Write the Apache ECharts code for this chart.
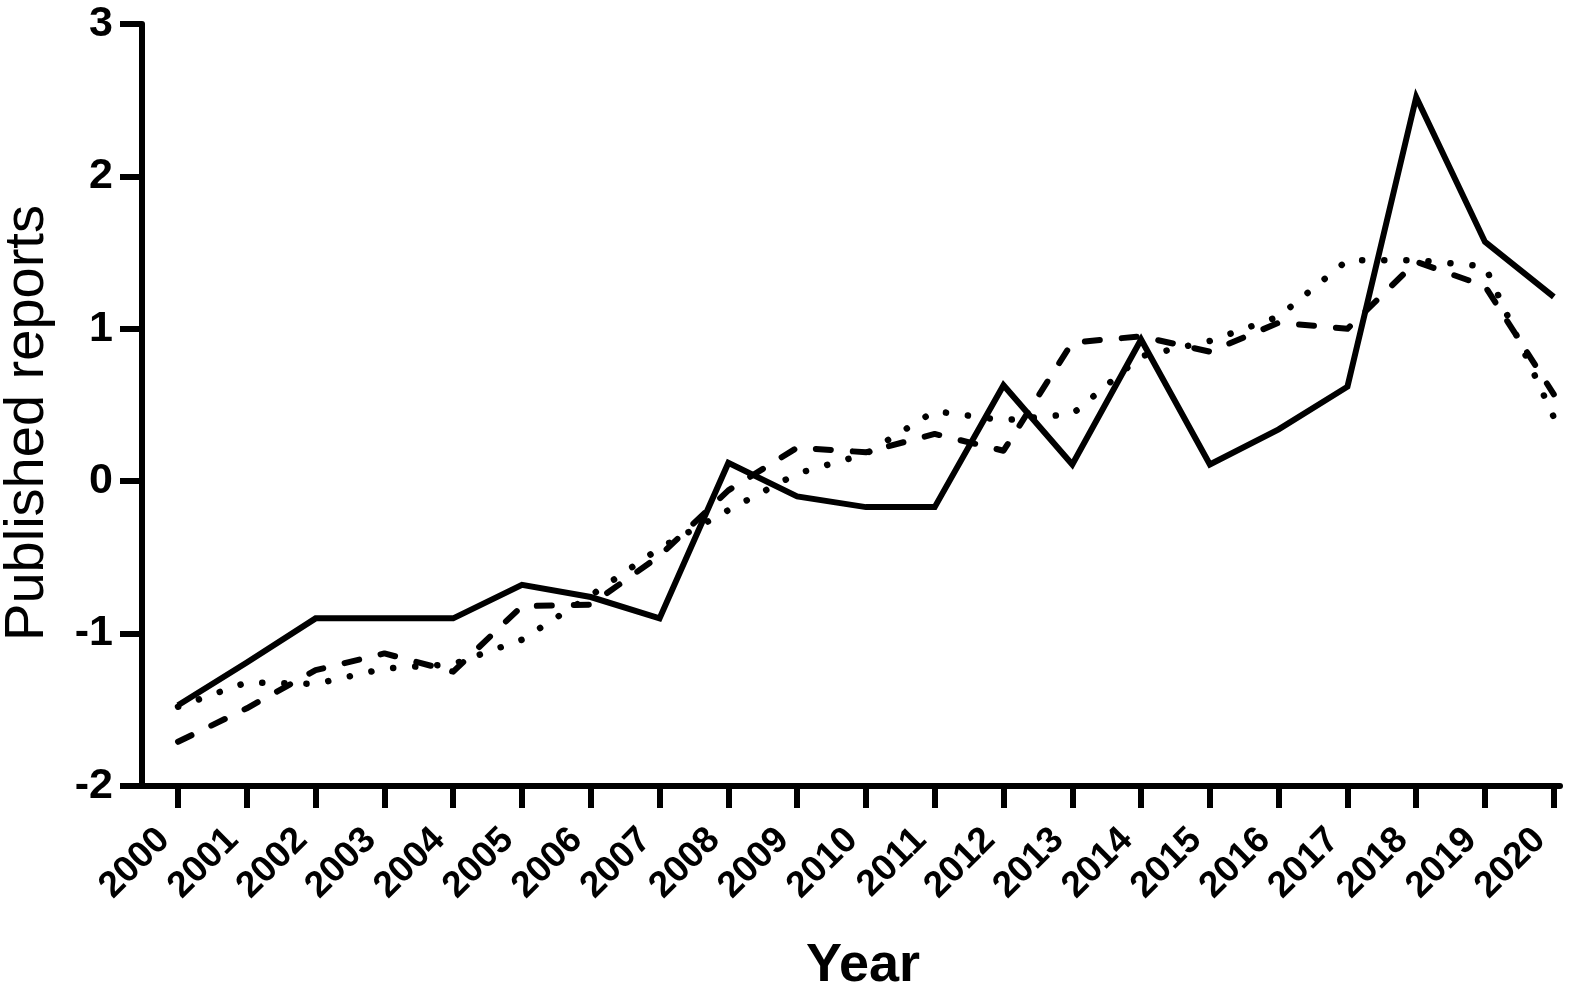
<!DOCTYPE html>
<html>
<head>
<meta charset="utf-8">
<script src="https://cdn.jsdelivr.net/npm/echarts@6/dist/echarts.min.js"></script>
<style>
  html, body { margin: 0; padding: 0; background: #fff; }
  #chart { width: 1594px; height: 985px; }
</style>
</head>
<body>
<div id="chart"></div>
<script>
// years on the x axis
const years = [2000, 2001, 2002, 2003, 2004, 2005, 2006, 2007, 2008, 2009, 2010,
  2011, 2012, 2013, 2014, 2015, 2016, 2017, 2018, 2019, 2020];

// solid line
const solidValues = [-1.47, -1.19, -0.90, -0.90, -0.90, -0.68, -0.76, -0.90, 0.12, -0.10, -0.17,
  -0.17, 0.63, 0.11, 0.93, 0.11, 0.34, 0.62, 2.52, 1.57, 1.21];
// dashed line
const dashedValues = [-1.71, -1.49, -1.24, -1.13, -1.25, -0.82, -0.81, -0.49, -0.06, 0.22, 0.19,
  0.31, 0.20, 0.91, 0.95, 0.85, 1.04, 1.00, 1.44, 1.28, 0.57];
// dotted line
const dottedValues = [-1.48, -1.32, -1.33, -1.23, -1.20, -1.04, -0.75, -0.44, -0.19, 0.05, 0.18,
  0.46, 0.40, 0.44, 0.82, 0.92, 1.08, 1.45, 1.45, 1.41, 0.42];

const yTicks = [-2, -1, 0, 1, 2, 3];

function pairs(vals) {
  return years.map((y, i) => [y, vals[i]]);
}

const chart = echarts.init(document.getElementById('chart'), null, { renderer: 'canvas' });

const axisStroke = { color: '#000', width: 6 };

const option = {
  animation: false,
  backgroundColor: '#fff',
  grid: { left: 123, right: 34, top: 24, bottom: 199, containLabel: false, outerBoundsMode: 'none' },
  xAxis: {
    type: 'value',
    min: 1999.2,
    max: 2020.09,
    splitLine: { show: false },
    axisLine: { show: true, onZero: false, lineStyle: axisStroke },
    axisTick: { show: true, length: 22, lineStyle: axisStroke, customValues: years },
    axisLabel: {
      customValues: years,
      formatter: v => String(v),
      rotate: 45,
      margin: 34,
      padding: [0, 20, 0, 0],
      color: '#000',
      fontFamily: 'Liberation Sans',
      fontWeight: 'bold',
      fontSize: 37
    },
    name: 'Year',
    nameLocation: 'middle',
    nameGap: 153,
    nameTextStyle: {
      color: '#000',
      fontFamily: 'Liberation Sans',
      fontWeight: 'bold',
      fontSize: 54,
      padding: [0, 0, 0, 43]
    }
  },
  yAxis: {
    type: 'value',
    min: -2,
    max: 3,
    interval: 1,
    offset: -19,
    splitLine: { show: false },
    axisLine: { show: true, lineStyle: axisStroke },
    axisTick: { show: true, length: 22, lineStyle: axisStroke },
    axisLabel: {
      margin: 29,
      color: '#000',
      fontFamily: 'Liberation Sans',
      fontWeight: 'bold',
      fontSize: 43,
      formatter: v => (yTicks.includes(v) ? String(v) : '')
    },
    name: 'Published reports',
    nameLocation: 'middle',
    nameGap: 86,
    nameTextStyle: {
      color: '#000',
      fontFamily: 'Liberation Sans',
      fontSize: 56,
      padding: [0, 36, 0, 0]
    }
  },
  series: [
    {
      name: 'solid',
      type: 'line',
      data: pairs(solidValues),
      symbol: 'none',
      lineStyle: { color: '#000', width: 6, type: 'solid', join: 'miter' },
      z: 3
    },
    {
      name: 'dashed',
      type: 'line',
      data: pairs(dashedValues),
      symbol: 'none',
      lineStyle: { color: '#000', width: 6, type: [15, 22], cap: 'round', join: 'round' },
      z: 2
    },
    {
      name: 'dotted',
      type: 'line',
      data: pairs(dottedValues),
      symbol: 'none',
      lineStyle: { color: '#000', width: 6.5, type: [0.1, 22], cap: 'round', join: 'round' },
      z: 2
    }
  ]
};

chart.setOption(option);
</script>
</body>
</html>
